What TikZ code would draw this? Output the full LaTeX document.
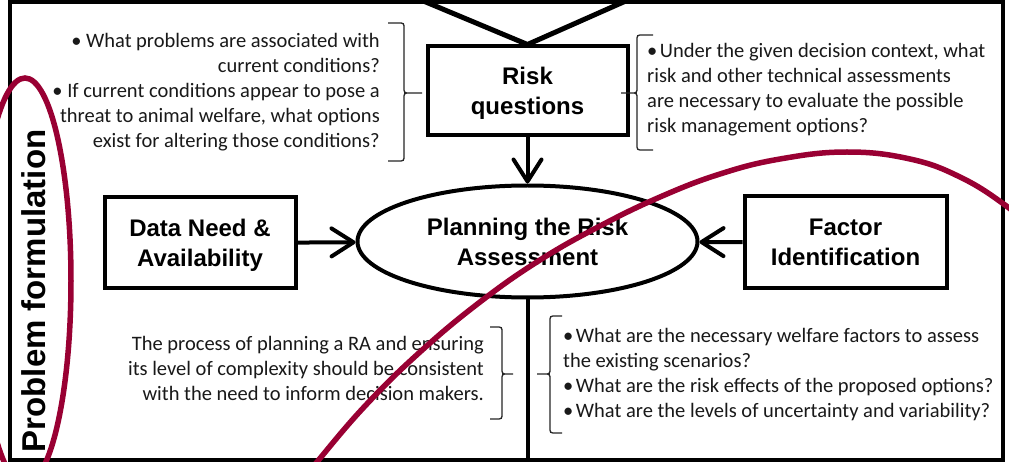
\documentclass[tikz,border=0pt]{standalone}
\usepackage{fontspec}
\setmainfont{Liberation Sans}
\newfontfamily\calib{Carlito}
\usetikzlibrary{shapes.geometric,arrows.meta}
\definecolor{crim}{RGB}{153,0,51}
\newcommand{\mybrace}[6]{%
 \draw[brc] (#5,#2) -- ({#1+6*sign(#5-#1)},#2) .. controls (#1,#2) .. (#1,{#2+6}) -- (#1,{#3-6})
   .. controls (#1,#3) .. ({#1-6*sign(#5-#1)},#3) -- (#6,#3)
   ({#1-6*sign(#5-#1)},#3) .. controls (#1,#3) .. (#1,{#3+6}) -- (#1,{#4-6})
   .. controls (#1,#4) .. ({#1+6*sign(#5-#1)},#4) -- (#5,#4);}
\newcommand{\bul}{\textbullet\hspace{2.5pt}}
\begin{document}
\begin{tikzpicture}[x=1pt,y=-1pt,
  box/.style={draw, line width=4pt, inner sep=0pt, align=center,
    font=\bfseries\fontsize{24}{30}\selectfont},
  txt/.style={inner sep=0pt, text=black!90, font=\calib\fontsize{20.5}{25}\selectfont},
  frm/.style={line width=4pt},
  vln/.style={line width=5pt},
  conn/.style={line width=4pt},
  arr/.style={line width=4pt, -{Straight Barb[length=22pt,width=28pt,round]}},
  brc/.style={line width=1.3pt, black!85},
  redl/.style={line width=5.5pt, crim}]
\useasboundingbox (0,0) rectangle (1009,462);
\clip (0,0) rectangle (1009,462);
\fill[white] (0,0) rectangle (1009,462);
\draw[frm] (10,2) rectangle (1003,460);

\node[box, minimum width=200pt, minimum height=89pt] (rq) at (527.5,91) {Risk\\\smash{questions}};
\node[box, minimum width=191pt, minimum height=91pt] (dn) at (200,243) {Data Need \&\\\smash{Availability}};
\node[box, minimum width=202pt, minimum height=92pt] (fi) at (845.5,242.5) {Factor\\Identification};
\node[box, ellipse, minimum width=340pt, minimum height=112pt] (pra) at (527.5,241.5) {Planning the Risk\\Assessment};

\coordinate (vl) at (421,0);
\coordinate (vr) at (628,0);
\coordinate (bot) at (527.5,462);
\draw[vln] (vl) -- (rq.north) -- (vr);
\draw[arr] (rq) -- (pra);
\draw[arr] (dn) -- (pra);
\draw[arr] (fi) -- (pra);
\draw[conn] (pra.south) -- (pra.south |- bot);

\node[rotate=90, anchor=base, inner sep=0pt, font=\bfseries\fontsize{33}{40}\selectfont] (pf) at (45,291) {Problem formulation};

\node[txt, align=right, anchor=base east] (tl) at (380,148) {\textbullet\ What problems are associated with\\current conditions?\\\textbullet\ If current conditions appear to pose a\\threat to animal welfare, what options\\exist for altering those conditions?};
\node[txt, align=left, anchor=base west] (tr) at (647,133) {\bul Under the given decision context, what\\risk and other technical assessments\\are necessary to evaluate the possible\\risk management options?};
\node[txt, align=right, anchor=base east] (bl) at (484,400) {The process of planning a RA and ensuring\\its level of complexity should be consistent\\with the need to inform decision makers.};
\node[txt, align=left, anchor=base west] (br) at (563,417) {\bul What are the necessary welfare factors to assess\\the existing scenarios?\\\bul What are the risk effects of the proposed options?\\\bul What are the levels of uncertainty and variability?};

\mybrace{404}{23}{93}{161}{388}{422}
\mybrace{637}{35}{93}{150}{653}{621}
\mybrace{502}{327}{374}{419}{490}{513}
\mybrace{550}{316}{374}{433}{562}{537}

\draw[redl] (25,281) ellipse [x radius=46pt, y radius=203pt];
\draw[redl] plot[smooth, tension=0.7] coordinates {(295,490) (317,462) (365,406) (420,352) (480,302) (540,260) (600,226) (660,197) (720,174) (780,159) (847,152) (910,159) (960,177) (1005,205) (1040,235)};
\end{tikzpicture}
\end{document}
